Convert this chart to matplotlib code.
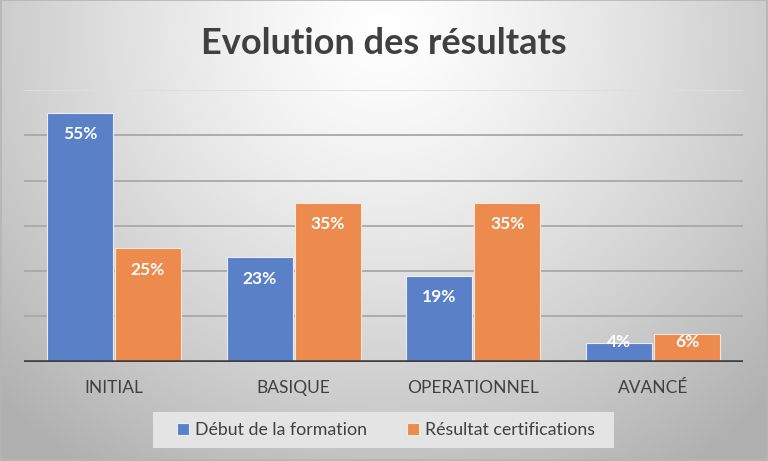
import numpy as np
import matplotlib
matplotlib.use("Agg")
import matplotlib.pyplot as plt
from matplotlib.patches import Rectangle

categories = ["INITIAL", "BASIQUE", "OPERATIONNEL", "AVANCÉ"]
debut = [55, 23, 19, 4]
resultat = [25, 35, 35, 6]
series_names = ["Début de la formation", "Résultat certifications"]
title = "Evolution des résultats"

BLUE = "#5A80C8"
ORANGE = "#EC8B4D"
TXT = "#404040"
FONT = "Lato"

W, H = 768, 461
fig = plt.figure(figsize=(W / 100, H / 100), dpi=100)

# background radial gradient
bg = fig.add_axes([0, 0, 1, 1])
yy, xx = np.mgrid[0:H, 0:W]
r = np.sqrt(((xx - 384) / 430.0) ** 2 + ((yy - 30) / 420.0) ** 2)
val = 1.0 - 0.23 * np.clip(r, 0, 1.25) ** 1.3
img = np.dstack([val, val, val])
bg.imshow(img, extent=[0, W, H, 0], aspect="auto", interpolation="bilinear")
bg.set_xlim(0, W)
bg.set_ylim(H, 0)
bg.axis("off")
bg.add_patch(Rectangle((0.5, 0.5), W - 1.5, H - 1.5, fill=False, edgecolor="#b5b5b5", lw=1.2))
# legend box
bg.add_patch(Rectangle((153, 412), 461, 36, facecolor="#e4e4e4", edgecolor="none"))

# plot area
left, right = 24, 743
top, base = 90, 361.5
ax = fig.add_axes([left / W, (H - base) / H, (right - left) / W, (base - top) / H])
ax.patch.set_alpha(0)
x = np.arange(len(categories))
bw = 0.367
off = 0.189
for yv in range(10, 60, 10):
    ax.axhline(yv, color="#a8a8a8", lw=1.3, zorder=1)
ax.axhline(60, color="#dedede", lw=1.3, zorder=1)
b1 = ax.bar(x - off, debut, bw, color=BLUE, edgecolor="#e8eef8", lw=0.8, zorder=2, label=series_names[0])
b2 = ax.bar(x + off, resultat, bw, color=ORANGE, edgecolor="#f8e6da", lw=0.8, zorder=2, label=series_names[1])
ax.axhline(0, color="#404040", lw=2.6, zorder=3)
for xs, vals in ((x - off, debut), (x + off, resultat)):
    for xi, v in zip(xs, vals):
        ax.text(xi, max(v - 4.7, 4.3), f"{v}%", ha="center", va="center", color="white",
                fontsize=12.5, fontweight="bold", family=FONT, zorder=4)
ax.set_xlim(-0.5, len(categories) - 0.5)
ax.set_ylim(0, 60)
ax.set_yticks([])
ax.set_xticks(x)
ax.set_xticklabels(categories, fontsize=12.5, color=TXT, family=FONT)
ax.tick_params(axis="x", length=0, pad=13)
for s in ax.spines.values():
    s.set_visible(False)

fig.text(0.5, 1 - 43 / H, title, ha="center", va="center", fontsize=26, fontweight="bold",
         color=TXT, family=FONT)

leg = fig.legend(handles=[b1, b2], labels=series_names, loc="center", bbox_to_anchor=(386 / W, 1 - 430 / H),
                 ncol=2, frameon=False, prop={"family": FONT, "size": 12.8}, handlelength=0.7,
                 handleheight=0.7, handletextpad=0.35, columnspacing=2.2, labelcolor=TXT)

fig.savefig("out.png", dpi=100)
